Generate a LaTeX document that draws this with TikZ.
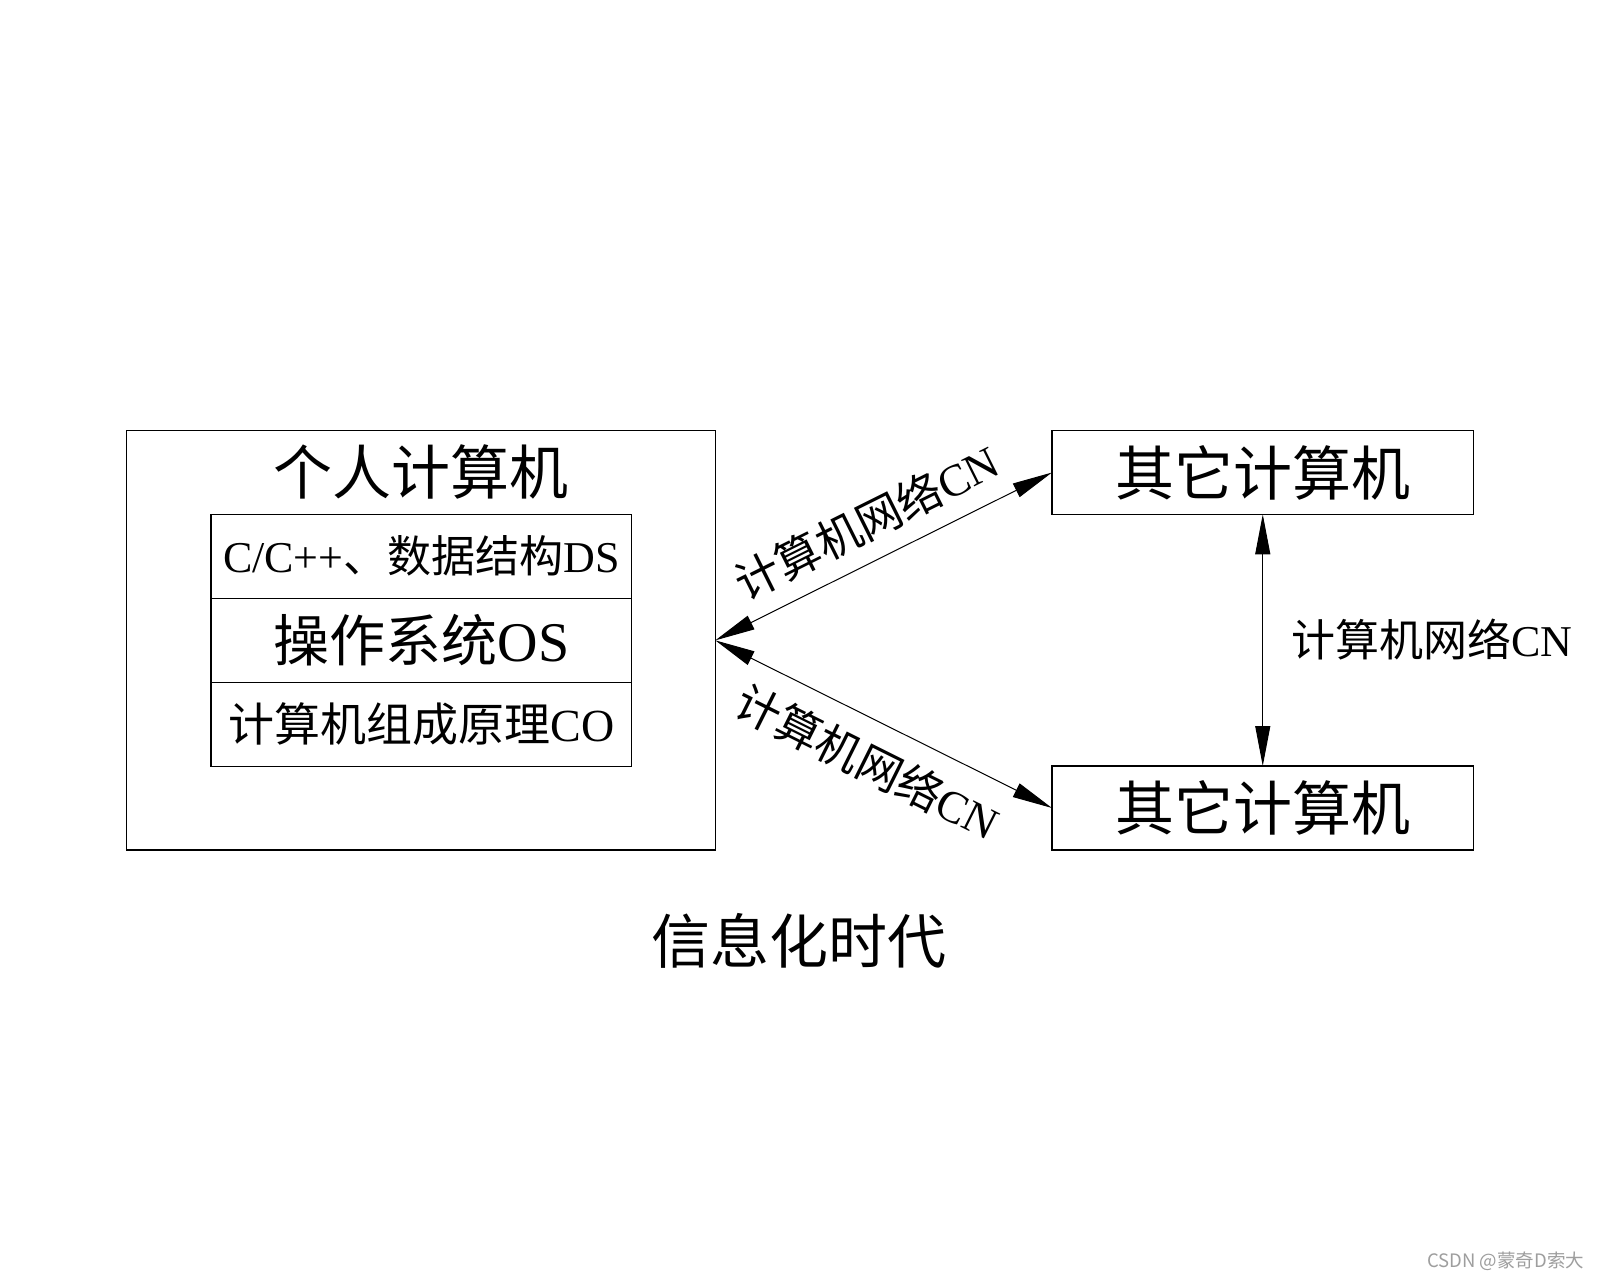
\documentclass[tikz,border=0pt]{standalone}
\usepackage{fontspec}
\setmainfont{Liberation Serif}
\newfontfamily\cjk{Noto Sans CJK SC}
\usetikzlibrary{arrows.meta}
\newcommand\myfs[1]{\fontsize{#1pt}{#1pt}\selectfont}
\begin{document}
\begin{tikzpicture}[x=1pt,y=-1pt,
  box/.style={draw,line width=1.3pt,inner sep=0pt,outer sep=0pt},
  conn/.style={line width=1pt,{Triangle[length=40pt,width=15pt]}-{Triangle[length=40pt,width=15pt]}},
  lbl/.style={inner sep=0pt,outer sep=0pt}]
\useasboundingbox (0,0) rectangle (1600,1280);
\fill[white] (0,0) rectangle (1600,1280);
% personal computer
\node[box,minimum width=588.8pt,minimum height=419.3pt] (pc) at (420.9,640.35) {};
\node[lbl] (pct) at (420.9,472) {\myfs{59}\cjk 个人计算机};
\node[box,minimum width=420.6pt,minimum height=84pt] (r1) at (421.4,556.3) {\myfs{44}C/C++{\cjk 、数据结构}DS};
\node[box,minimum width=420.6pt,minimum height=84pt] (r2) at (421.4,640.3) {\myfs{56}{\cjk 操作系统}OS};
\node[box,minimum width=420.6pt,minimum height=84pt] (r3) at (421.4,724.2) {\myfs{46}{\cjk 计算机组成原理}CO};
% other computers
\node[box,minimum width=421.5pt,minimum height=83.6pt] (o1) at (1262.75,472.5) {\myfs{59}\cjk 其它计算机};
\node[box,minimum width=421.5pt,minimum height=84pt] (o2) at (1262.75,808) {\myfs{59}\cjk 其它计算机};
% connectors
\draw[conn] (pc.east) -- (o1.west);
\draw[conn] (pc.east) -- (o2.west);
\draw[conn] (o1.south) -- (o2.north);
% labels
\node[lbl,rotate=26.5] (l1) at (866.6,521.7) {\myfs{45}{\cjk 计算机网络}CN};
\node[lbl,rotate=-26.5] (l2) at (867.7,761.7) {\myfs{45}{\cjk 计算机网络}CN};
\node[lbl,anchor=west] (l3) at (1291,640) {\myfs{44}{\cjk 计算机网络}CN};
% caption
\node[lbl] (cap) at (799,941) {\myfs{59}\cjk 信息化时代};
% watermark
\node[lbl,anchor=east,text=black!38] (wm) at (1584,1261) {\myfs{18.5}\cjk CSDN @蒙奇D索大};
\end{tikzpicture}
\end{document}
